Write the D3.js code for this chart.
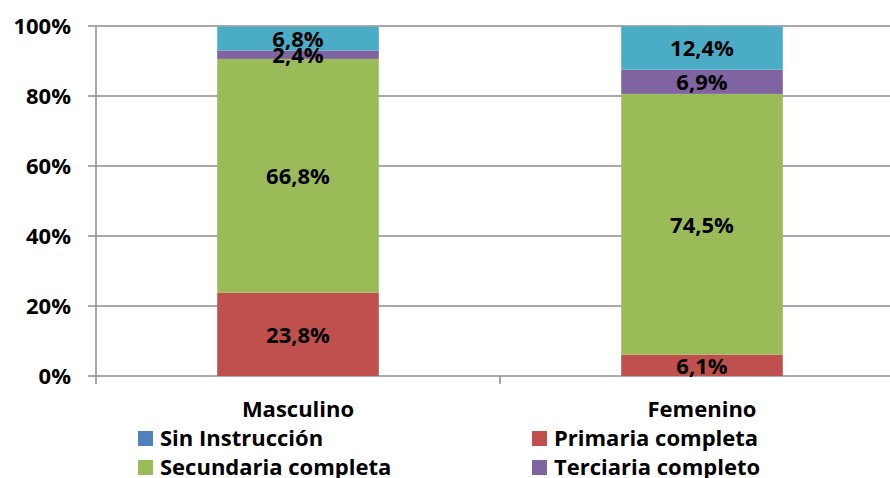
<!DOCTYPE html>
<html>
<head>
<meta charset="utf-8">
<title>Nivel educativo por sexo</title>
<style>
  body { margin: 0; background: #fff; }
  svg text { font-family: "Open Sans", Lato, sans-serif; font-weight: bold; fill: #000; }
</style>
<script src="https://d3js.org/d3.v7.min.js"></script>
</head>
<body>
<div id="chart"></div>
<script>
// data
var categories = ["Masculino", "Femenino"];
var seriesNames = ["Sin Instrucción", "Primaria completa", "Secundaria completa", "Terciaria completo", "Universitario completo"];
var seriesColors = ["#4F81BD", "#C0504D", "#9BBB59", "#8064A2", "#4BACC6"];
var sinInstruccion = [0, 0];
var primaria = [23.8, 6.1];
var secundaria = [66.8, 74.5];
var terciaria = [2.4, 6.9];
var universitario = [6.8, 12.4];
var yTicks = [0, 20, 40, 60, 80, 100];
var legendShown = 4; // only four entries fit in the legend

var values = [sinInstruccion, primaria, secundaria, terciaria, universitario];

var W = 890, H = 478;
var FS = "22px";
var svg = d3.select("#chart").append("svg")
  .attr("width", W).attr("height", H);

var x = d3.scaleBand().domain(categories).range([96, 904])
  .paddingInner(0.6).paddingOuter(0.3);
var y = d3.scaleLinear().domain([0, 100]).range([376, 26]);

// gridlines
svg.append("g").selectAll("line")
  .data(yTicks).enter().append("line")
  .attr("x1", 88).attr("x2", W)
  .attr("y1", function(d){ return y(d); })
  .attr("y2", function(d){ return y(d); })
  .attr("stroke", "#8c8c8c").attr("stroke-width", 1.5);

// y axis
var yAxis = svg.append("g")
  .attr("transform", "translate(96,0)")
  .call(d3.axisLeft(y).tickValues(yTicks).tickSize(8).tickFormat(function(d){ return d + "%"; }));
yAxis.select(".domain").attr("stroke", "#8c8c8c").attr("stroke-width", 1.5)
  .attr("d", "M0,26V384");
yAxis.selectAll(".tick line").remove();
yAxis.selectAll("text").attr("x", -25).style("font-size", FS).attr("dy", "0.36em");

// x axis tick (between categories)
svg.append("line")
  .attr("x1", 500).attr("x2", 500).attr("y1", 376).attr("y2", 384)
  .attr("stroke", "#8c8c8c").attr("stroke-width", 1.5);

// stack
var rows = categories.map(function(c, i) {
  var r = { cat: c };
  seriesNames.forEach(function(s, j){ r[s] = values[j][i]; });
  return r;
});
var stacked = d3.stack().keys(seriesNames)(rows);

var layers = svg.append("g").selectAll("g")
  .data(stacked).enter().append("g")
  .attr("fill", function(d, i){ return seriesColors[i]; });

layers.selectAll("rect")
  .data(function(d){ return d; })
  .enter().append("rect")
  .attr("x", function(d){ return x(d.data.cat); })
  .attr("width", x.bandwidth())
  .attr("y", function(d){ return y(d[1]); })
  .attr("height", function(d){ return y(d[0]) - y(d[1]); });

// value labels
stacked.forEach(function(layer) {
  layer.forEach(function(d) {
    var v = d[1] - d[0];
    if (v <= 0) return;
    svg.append("text")
      .attr("x", x(d.data.cat) + x.bandwidth() / 2)
      .attr("y", (y(d[0]) + y(d[1])) / 2)
      .attr("dy", "0.38em")
      .attr("text-anchor", "middle")
      .style("font-size", FS)
      .text(v.toFixed(1).replace(".", ",") + "%");
  });
});

// category labels
svg.append("g").selectAll("text")
  .data(categories).enter().append("text")
  .attr("x", function(d){ return x(d) + x.bandwidth() / 2; })
  .attr("y", 417)
  .attr("text-anchor", "middle")
  .style("font-size", FS)
  .text(function(d){ return d; });

// legend
var legendPos = [[138, 431], [532, 431], [138, 460], [532, 460]];
var legend = svg.append("g").selectAll("g")
  .data(seriesNames.slice(0, legendShown)).enter().append("g")
  .attr("transform", function(d, i){ return "translate(" + legendPos[i][0] + "," + legendPos[i][1] + ")"; });
legend.append("rect")
  .attr("width", 15).attr("height", 15)
  .attr("fill", function(d, i){ return seriesColors[i]; });
legend.append("text")
  .attr("x", 22).attr("y", 15)
  .style("font-size", FS)
  .text(function(d){ return d; });
</script>
</body>
</html>
